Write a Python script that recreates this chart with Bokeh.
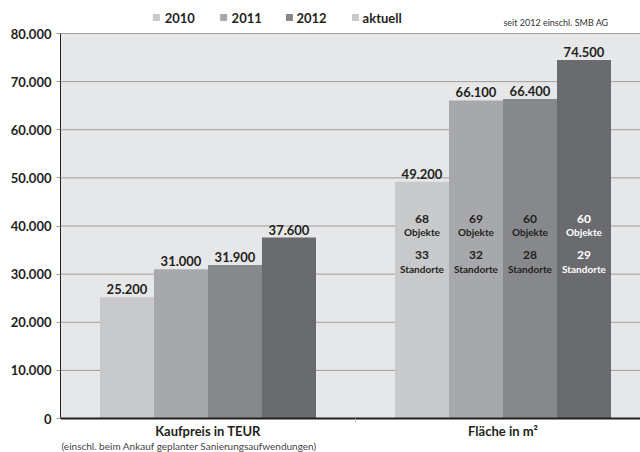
from bokeh.plotting import figure
from bokeh.models import Range1d, FixedTicker, ColumnDataSource
from bokeh.core.properties import value
from bokeh.embed import file_html
from bokeh.resources import INLINE

categories = ["Kaufpreis in TEUR", "Fläche in m²"]
years = ["2010", "2011", "2012", "aktuell"]
vals_2010 = [25200, 49200]
vals_2011 = [31000, 66100]
vals_2012 = [31900, 66400]
vals_aktuell = [37600, 74500]
objekte = [68, 69, 60, 60]
standorte = [33, 32, 28, 29]
y_ticks = [0, 10000, 20000, 30000, 40000, 50000, 60000, 70000, 80000]
note = "seit 2012 einschl. SMB AG"
footnote = "(einschl. beim Ankauf geplanter Sanierungsaufwendungen)"

series = [vals_2010, vals_2011, vals_2012, vals_aktuell]
colors = ["#c8c9cb", "#a7a8ab", "#87888c", "#6a6b6f"]
legend_colors = ["#c8c9cb", "#a7a8ab", "#87888c", "#c8c9cb"]
inner_text_colors = ["#231f20", "#231f20", "#231f20", "#ffffff"]
TXT = "#231f20"
FONT = "Lato"

# layout helpers (pixel -> data)
PX = 80000 / 385          # data units per pixel vertically
def ypx(py):              # pixel row from top -> data value
    return (418 - py) * PX

bar_w = 54 / 295
offsets = [-1.5, -0.5, 0.5, 1.5]
centers = [0.5, 1.5]
XMAX = 580 / 295
YMAX = y_ticks[-1]

p = figure(width=640, height=452, output_backend="svg", toolbar_location=None,
           x_range=Range1d(0, XMAX), y_range=Range1d(ypx(452), ypx(0)),
           x_axis_location=None,
           min_border_left=60, min_border_right=0, min_border_top=0, min_border_bottom=0)
p.background_fill_color = "white"
p.border_fill_color = "white"
p.outline_line_color = None
p.xgrid.grid_line_color = None
p.ygrid.grid_line_color = None

# plot-area background
p.quad(left=[0], right=[XMAX], bottom=[0], top=[YMAX], fill_color="#e6e7e8", line_color=None)
# horizontal grid lines
p.segment(x0=[0] * len(y_ticks), x1=[XMAX] * len(y_ticks), y0=y_ticks, y1=y_ticks,
          line_color="#9d9d9d", line_width=1)

for i, (vals, col) in enumerate(zip(series, colors)):
    xs = [c + offsets[i] * bar_w for c in centers]
    src = ColumnDataSource(dict(x=xs, top=vals,
                                lab=[f"{v:,}".replace(",", ".") for v in vals]))
    p.vbar(x="x", top="top", width=bar_w, source=src, fill_color=col, line_color=None)
    p.text(x="x", y="top", text="lab", source=src, text_align="center",
           text_baseline="bottom", y_offset=-3, text_font=value(FONT),
           text_font_style="bold", text_font_size="13px", text_color=TXT)
    # inner labels in the area group
    xa = centers[1] + offsets[i] * bar_w
    inner = [(ypx(218), str(objekte[i]), "12px"), (ypx(231), "Objekte", "10px"),
             (ypx(254), str(standorte[i]), "12px"), (ypx(268), "Standorte", "10px")]
    for yv, t, fs in inner:
        p.text(x=[xa], y=[yv], text=[t], text_align="center", text_baseline="middle",
               text_font=value(FONT), text_font_style="bold", text_font_size=fs,
               text_color=inner_text_colors[i])

# x axis line and divider ticks
p.segment(x0=[0], x1=[XMAX], y0=[0], y1=[0], line_color="#231f20", line_width=2)
p.segment(x0=[1], x1=[1], y0=[0], y1=[ypx(422)], line_color="#bbbbbb", line_width=1)
# category labels
p.text(x=centers, y=[ypx(430)] * 2, text=categories, text_align="center",
       text_baseline="middle", text_font=value(FONT), text_font_style="bold",
       text_font_size="13px", text_color=TXT)
# footnote
p.text(x=[1 / 295], y=[ypx(445)], text=[footnote], text_align="left", text_baseline="middle",
       text_font=value(FONT), text_font_size="10px", text_color="#444444")

# y axis
p.yaxis.bounds = (0, YMAX)
p.yaxis.ticker = FixedTicker(ticks=y_ticks)
p.yaxis.major_label_overrides = {t: (f"{t:,}".replace(",", ".") if t else "0") for t in y_ticks}
p.yaxis.major_label_text_font = FONT
p.yaxis.major_label_text_font_style = "bold"
p.yaxis.major_label_text_font_size = "13px"
p.yaxis.major_label_text_color = TXT
p.yaxis.major_label_standoff = 5
p.yaxis.axis_line_color = "#231f20"
p.yaxis.major_tick_line_color = "#999999"
p.yaxis.major_tick_out = 4
p.yaxis.major_tick_in = 0
p.yaxis.minor_tick_line_color = None

# legend (manual)
leg_sq_x = [0.325, 0.553, 0.776, 1.0]
leg_tx_x = [0.353, 0.580, 0.800, 1.024]
leg_y = ypx(17)
p.scatter(x=leg_sq_x, y=[leg_y] * 4, marker="square", size=7,
          fill_color=legend_colors, line_color=None)
p.text(x=leg_tx_x, y=[leg_y] * 4, text=years, text_align="left", text_baseline="middle",
       text_font=value(FONT), text_font_style="bold", text_font_size="13px", text_color=TXT)
# note top right
p.text(x=[548 / 295], y=[ypx(22)], text=[note], text_align="right", text_baseline="middle",
       text_font=value(FONT), text_font_size="9px", text_color="#333333")

open("out.html", "w").write(file_html(p, INLINE))
